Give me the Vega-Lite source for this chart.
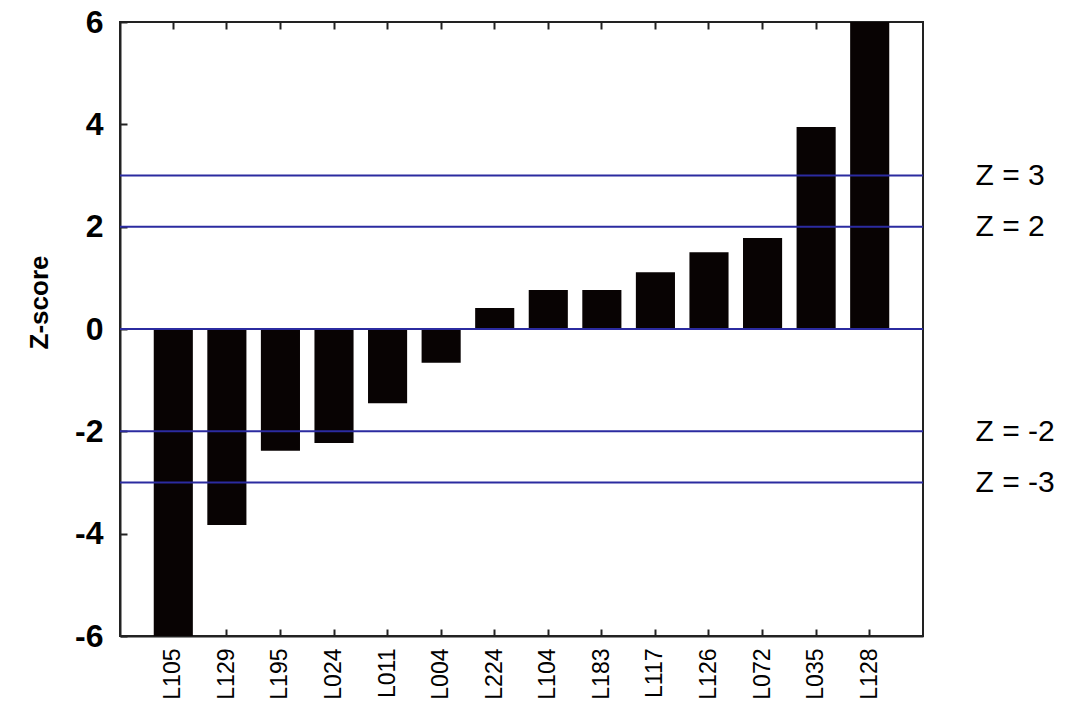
{
  "$schema": "https://vega.github.io/schema/vega-lite/v6.json",
  "width": 803,
  "height": 614,
  "autosize": {"type": "none"},
  "padding": {"left": 120, "top": 22, "right": 168, "bottom": 69},
  "background": "white",
  "config": {
    "view": {"stroke": "#222222", "strokeWidth": 2},
    "font": "Liberation Sans",
    "axis": {"domainColor": "#222222", "domainWidth": 2, "tickColor": "#222222", "tickWidth": 2, "labelColor": "#000000", "titleColor": "#000000", "grid": false}
  },
  "data": {
    "values": [
      {"id": "L105", "z": -6},
      {"id": "L129", "z": -3.83},
      {"id": "L195", "z": -2.38},
      {"id": "L024", "z": -2.23},
      {"id": "L011", "z": -1.45},
      {"id": "L004", "z": -0.66},
      {"id": "L224", "z": 0.41},
      {"id": "L104", "z": 0.76},
      {"id": "L183", "z": 0.76},
      {"id": "L117", "z": 1.11},
      {"id": "L126", "z": 1.5},
      {"id": "L072", "z": 1.78},
      {"id": "L035", "z": 3.95},
      {"id": "L128", "z": 6}
    ]
  },
  "layer": [
    {
      "mark": {"type": "bar", "color": "#080303", "clip": true},
      "encoding": {
        "x": {
          "field": "id", "type": "nominal", "sort": null,
          "scale": {"paddingInner": 0.27, "paddingOuter": 0.63},
          "axis": {"orient": "bottom", "title": null, "labelAngle": -90, "labelFontSize": 23, "labelPadding": 19, "tickSize": -7, "domain": true}
        },
        "y": {
          "field": "z", "type": "quantitative",
          "scale": {"domain": [-6, 6], "nice": false, "zero": false},
          "axis": {"orient": "left", "title": "Z-score", "titleFontSize": 26, "titleFontWeight": "bold", "titlePadding": 22, "titleY": 280, "labelFontSize": 32, "labelFontWeight": "bold", "labelPadding": 24, "labelExpr": "'' + datum.value", "values": [-6, -4, -2, 0, 2, 4, 6], "tickSize": -7}
        }
      }
    },
    {
      "mark": {"type": "bar", "opacity": 0},
      "encoding": {
        "x": {
          "field": "id", "type": "nominal", "sort": null,
          "axis": {"orient": "top", "title": null, "labels": false, "tickSize": -7, "domain": false}
        },
        "y": {"field": "z", "type": "quantitative", "axis": null}
      }
    },
    {
      "data": {"values": [{"z": 3}, {"z": 2}, {"z": 0}, {"z": -2}, {"z": -3}]},
      "mark": {"type": "rule", "color": "#2b2ba0", "strokeWidth": 2},
      "encoding": {
        "y": {
          "field": "z", "type": "quantitative",
          "axis": {"orient": "right", "title": null, "values": [3, 2, -2, -3], "labelExpr": "'Z = ' + datum.value", "labelFontSize": 30, "labelPadding": 52, "ticks": false, "domain": false}
        }
      }
    }
  ],
  "resolve": {"axis": {"y": "independent", "x": "independent"}}
}
